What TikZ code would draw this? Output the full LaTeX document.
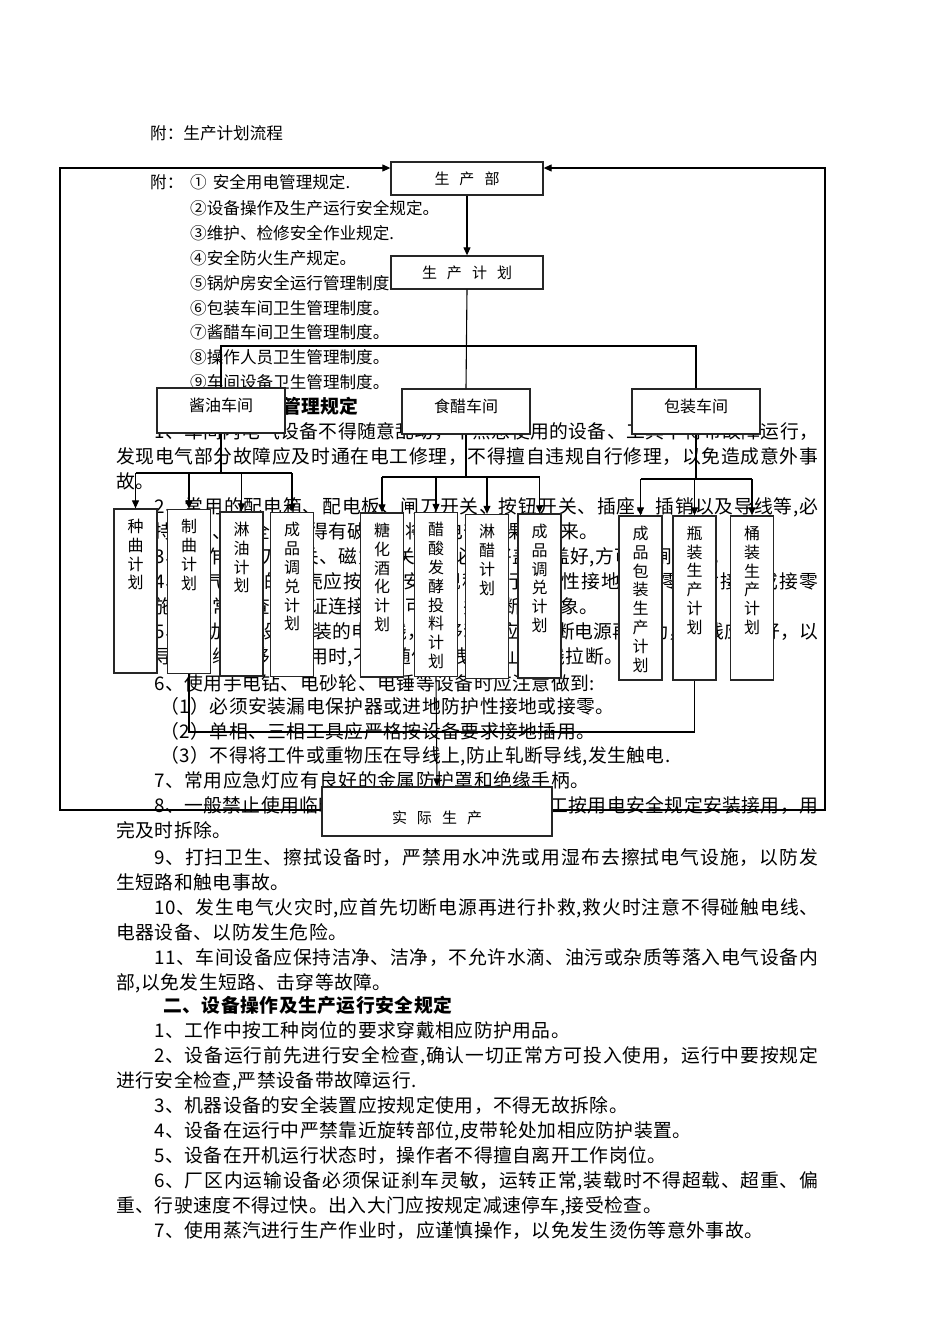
\documentclass[tikz,border=0pt]{standalone}
\usepackage{fontspec}
\setmainfont{Noto Sans CJK SC}
\newfontfamily\bodyf{Noto Sans CJK SC}[LetterSpace=2.7]
\usetikzlibrary{arrows.meta}
\XeTeXlinebreaklocale "zh"
\XeTeXlinebreakskip=0pt plus 1fil minus 0.6pt
\newcommand\jus[2]{\parbox[b]{#1}{\parfillskip=0pt\relax #2}}
\newcommand\vtx[1]{\parbox[c][158pt][t]{40pt}{\centering\fontsize{16}{18.8}\selectfont\vspace*{7pt}#1}}
\tikzset{
  body/.style={anchor=base west, inner sep=0pt, font=\bodyf\fontsize{18.8}{20}\selectfont},
  bodyb/.style={body, font=\bodyf\fontsize{18.8}{20}\selectfont\bfseries},
  lst/.style={anchor=base west, inner sep=0pt, font=\fontsize{16.6}{18}\selectfont},
  box/.style={draw=black!85, line width=1.3pt, fill=white, inner sep=0pt},
  topbox/.style={box, minimum width=152pt, minimum height=33pt, font=\fontsize{15}{16}\selectfont},
  midbox/.style={box, minimum width=128pt, minimum height=45pt, font=\fontsize{16}{17}\selectfont, text height=12pt, text depth=11pt},
  planbox/.style={box, minimum width=43pt, minimum height=164pt},
  conn/.style={line width=1.1pt, draw=black},
  arr/.style={conn, -{Triangle[length=8pt,width=7pt]}},
}
\begin{document}
\begin{tikzpicture}[x=1pt,y=-1pt]
\fill[white] (0,0) rectangle (950,1344);
\useasboundingbox (0,0) rectangle (950,1344);
% ---------------- body text ----------------
\node[lst] (t00) at (150,139) {附：生产计划流程};
\node[lst] (t01) at (150,188) {附：};
\node[lst] (t02) at (190,188) {①\hspace{6pt}安全用电管理规定.};
\node[lst] (t03) at (190,214) {②设备操作及生产运行安全规定。};
\node[lst] (t04) at (190,239) {③维护、检修安全作业规定.};
\node[lst] (t05) at (190,264) {④安全防火生产规定。};
\node[lst] (t06) at (190,289) {⑤锅炉房安全运行管理制度。};
\node[lst] (t07) at (190,314) {⑥包装车间卫生管理制度。};
\node[lst] (t08) at (190,338) {⑦酱醋车间卫生管理制度。};
\node[lst] (t09) at (190,363) {⑧操作人员卫生管理制度。};
\node[lst] (t10) at (190,388) {⑨车间设备卫生管理制度。};
\node[bodyb] (t11) at (166,413) {一、安全用电管理规定};
\node[body] (t12) at (154,438) {\jus{664pt}{1、车间内电气设备不得随意乱动，不熟悉使用的设备、工具不得带故障运行，}};
\node[body] (t13) at (116,463) {\jus{702pt}{发现电气部分故障应及时通在电工修理，不得擅自违规自行修理，以免造成意外事}};
\node[body] (t14) at (116,488) {故。};
\node[body] (t15) at (154,513) {\jus{664pt}{2、常用的配电箱、配电板、闸刀开关、按钮开关、插座、插销以及导线等,必}};
\node[body] (t16) at (116,538) {须保持完好、安全，不得有破损或将带电部分裸露出来。};
\node[body] (t17) at (154,563) {3、操作用闸刀开关、磁力开关时，必须将盖子盖好,方可拉闸送电。};
\node[body] (t18) at (154,588) {\jus{664pt}{4、电气设备的外壳应按有关安全规程进行防护性接地或接零，对接地或接零}};
\node[body] (t19) at (116,613) {的设施要经常检查，保证连接牢固可靠，并无断开现象。};
\node[body] (t20) at (154,638) {\jus{664pt}{5、移动电器设备安装的电源线，在移动时应先切断电源再移动，导线应收好，以}};
\node[body] (t21) at (116,663) {损坏导线绝缘，移动使用时,不得随便拖拽，防止导线拉断。};
\node[body] (t22) at (154,690) {6、使用手电钻、电砂轮、电锤等设备时应注意做到:};
\node[body] (t23) at (160,713) {（1）必须安装漏电保护器或进地防护性接地或接零。};
\node[body] (t24) at (160,738) {（2）单相、三相工具应严格按设备要求接地插用。};
\node[body] (t25) at (160,762) {（3）不得将工件或重物压在导线上,防止轧断导线,发生触电.};
\node[body] (t26) at (154,787) {7、常用应急灯应有良好的金属防护罩和绝缘手柄。};
\node[body] (t27) at (154,812) {\jus{664pt}{8、一般禁止使用临时线，须用时应经批准由电工按用电安全规定安装接用，用}};
\node[body] (t28) at (116,837) {完及时拆除。};
\node[body] (t29) at (154,864) {\jus{664pt}{9、打扫卫生、擦拭设备时，严禁用水冲洗或用湿布去擦拭电气设施，以防发}};
\node[body] (t30) at (116,889) {生短路和触电事故。};
\node[body] (t31) at (154,914) {\jus{664pt}{10、发生电气火灾时,应首先切断电源再进行扑救,救火时注意不得碰触电线、}};
\node[body] (t32) at (116,939) {电器设备、以防发生危险。};
\node[body] (t33) at (154,964) {\jus{664pt}{11、车间设备应保持洁净、洁净，不允许水滴、油污或杂质等落入电气设备内}};
\node[body] (t34) at (116,989) {部,以免发生短路、击穿等故障。};
\node[bodyb] (t35) at (163,1012) {二、设备操作及生产运行安全规定};
\node[body] (t36) at (154,1037) {1、工作中按工种岗位的要求穿戴相应防护用品。};
\node[body] (t37) at (154,1062) {\jus{664pt}{2、设备运行前先进行安全检查,确认一切正常方可投入使用，运行中要按规定}};
\node[body] (t38) at (116,1087) {进行安全检查,严禁设备带故障运行.};
\node[body] (t39) at (154,1112) {3、机器设备的安全装置应按规定使用，不得无故拆除。};
\node[body] (t40) at (154,1137) {4、设备在运行中严禁靠近旋转部位,皮带轮处加相应防护装置。};
\node[body] (t41) at (154,1162) {5、设备在开机运行状态时，操作者不得擅自离开工作岗位。};
\node[body] (t42) at (154,1187) {\jus{664pt}{6、厂区内运输设备必须保证刹车灵敏，运转正常,装载时不得超载、超重、偏}};
\node[body] (t43) at (116,1212) {重、行驶速度不得过快。出入大门应按规定减速停车,接受检查。};
\node[body] (t44) at (154,1237) {7、使用蒸汽进行生产作业时，应谨慎操作，以免发生烫伤等意外事故。};
% ---------------- flowchart boxes ----------------
\node[topbox] (P0) at (467,178.5) {生\hspace{10pt}产\hspace{10pt}部};
\node[topbox] (P1) at (467,272.5) {生\hspace{10pt}产\hspace{10pt}计\hspace{10pt}划};
\node[midbox] (J) at (221,410.5) {酱油车间};
\node[midbox] (C) at (466,411.5) {食醋车间};
\node[midbox] (K) at (696,411.5) {包装车间};
\node[planbox] (Z1) at (135.5,591) {\vtx{种\\曲\\计\\划}};
\node[planbox] (Z2) at (189,591.5) {\vtx{制\\曲\\计\\划}};
\node[planbox] (Z3) at (241.5,594) {\vtx{淋\\油\\计\\划}};
\node[planbox] (Z4) at (292,594.5) {\vtx{成\\品\\调\\兑\\计\\划}};
\node[planbox] (V1) at (382,595) {\vtx{糖\\化\\酒\\化\\计\\划}};
\node[planbox] (V2) at (436,594.5) {\vtx{醋\\酸\\发\\酵\\投\\料\\计\\划}};
\node[planbox] (V3) at (487,596.5) {\vtx{淋\\醋\\计\\划}};
\node[planbox] (V4) at (539.5,596) {\vtx{成\\品\\调\\兑\\计\\划}};
\node[planbox] (B1) at (640.5,598) {\vtx{成\\品\\包\\装\\生\\产\\计\\划}};
\node[planbox] (B2) at (694.5,598) {\vtx{瓶\\装\\生\\产\\计\\划}};
\node[planbox] (B3) at (752,598) {\vtx{桶\\装\\生\\产\\计\\划}};
\node[box, minimum width=230pt, minimum height=49pt, font=\fontsize{15}{16}\selectfont, text height=23pt, text depth=0pt] (R) at (437,811.5) {实\hspace{10pt}际\hspace{10pt}生\hspace{10pt}产};
% ---------------- connectors ----------------
\coordinate (bus0) at (466,346);
\coordinate (bJ) at (221,473);
\coordinate (bC) at (466,477);
\coordinate (bK) at (696,479);
\coordinate (bb) at (437,732);
\coordinate (cL) at (60,810);
\coordinate (cR) at (825,810);
\coordinate (tL) at (60,168);
\coordinate (tR) at (825,168);
\draw[arr] (P0.south) -- (P1.north);
\draw[conn] (P1.south) -- (C.north);
\draw[conn] (J.north) -- (J.north |- bus0) -- (K.north |- bus0) -- (K.north);
% soy sauce workshop
\draw[conn] (J.south) -- (bJ);
\draw[conn] (Z1.north |- bJ) -- (Z4.north |- bJ);
\foreach \n in {Z1,Z2,Z3,Z4} \draw[arr] (\n.north |- bJ) -- (\n.north);
% vinegar workshop
\draw[conn] (C.south) -- (bC);
\draw[conn] (V1.north |- bC) -- (V4.north |- bC);
\foreach \n in {V1,V2,V3,V4} \draw[arr] (\n.north |- bC) -- (\n.north);
% packaging workshop
\draw[conn] (K.south) -- (bK);
\draw[conn] (B1.north |- bK) -- (B3.north |- bK);
\foreach \n in {B1,B2,B3} \draw[arr] (\n.north |- bK) -- (\n.north);
% to actual production
\draw[conn] (Z2.south) -- (Z2.south |- bb) -- (B2.south |- bb) -- (B2.south);
\draw[arr] (V2.south) -- (R.north);
% feedback loops
\draw[arr] (cL -| R.west) -- (cL) -- (tL) -- (tL -| P0.west);
\draw[arr] (cR -| R.east) -- (cR) -- (tR) -- (tR -| P0.east);
\end{tikzpicture}
\end{document}
